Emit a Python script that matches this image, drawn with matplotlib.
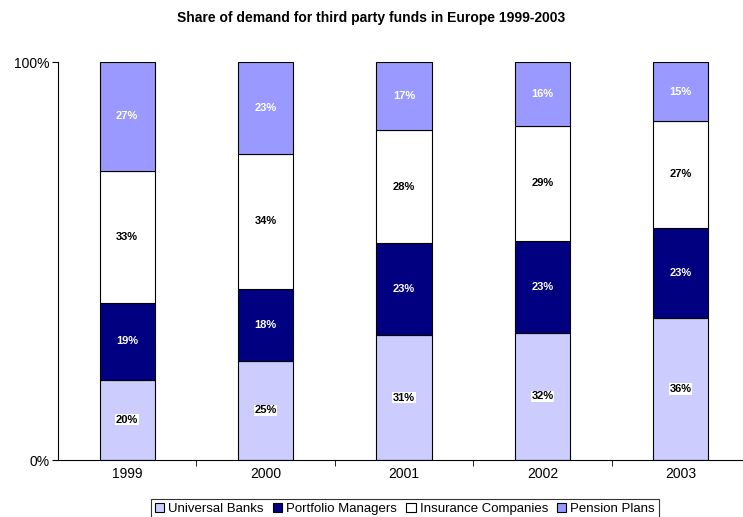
import matplotlib
matplotlib.use("Agg")
import matplotlib.pyplot as plt
import numpy as np
from matplotlib.patches import Patch

plt.rcParams['font.family'] = ['Liberation Sans', 'DejaVu Sans']

years = ['1999', '2000', '2001', '2002', '2003']
universal_banks = [20, 25, 31, 32, 36]
portfolio_managers = [19, 18, 23, 23, 23]
insurance_companies = [33, 34, 28, 29, 27]
pension_plans = [27, 23, 17, 16, 15]

series = [
    ('Universal Banks', universal_banks, '#CCCCFF', 'black', True),
    ('Portfolio Managers', portfolio_managers, '#000080', 'white', False),
    ('Insurance Companies', insurance_companies, '#FFFFFF', 'black', False),
    ('Pension Plans', pension_plans, '#9999FF', 'white', False),
]

data = np.array([s[1] for s in series], dtype=float)
totals = data.sum(axis=0)
shares = data / totals

fig = plt.figure(figsize=(7.43, 5.17), dpi=100)
ax = fig.add_axes([58/743, 57/517, 692/743, 398/517])

x = np.arange(len(years))
bottom = np.zeros(len(years))
for (name, vals, color, tcolor, boxed), sh in zip(series, shares):
    ax.bar(x, sh, 0.40, bottom=bottom, color=color, edgecolor='black', linewidth=0.8, zorder=2)
    for xi, b, h, v in zip(x, bottom, sh, vals):
        kw = {}
        if boxed:
            kw['bbox'] = dict(facecolor='white', edgecolor='none', pad=0.5)
        ax.text(xi, b + h / 2, f'{v}%', ha='center', va='center', fontsize=8,
                fontweight='bold', color=tcolor, zorder=3, **kw)
    bottom += sh

ax.set_xlim(-0.5, len(years) - 0.5)
ax.set_ylim(0, 1)
ax.set_yticks([0, 1])
ax.set_yticklabels(['0%', '100%'], fontsize=10)
ax.set_xticks(x)
ax.set_xticklabels(years, fontsize=10)
ax.tick_params(axis='x', which='major', length=0, pad=5)
ax.set_xticks(np.arange(0.5, len(years) - 0.5, 1), minor=True)
ax.tick_params(axis='x', which='minor', length=4, direction='out')
ax.tick_params(axis='y', length=4, direction='out', pad=2)
ax.spines['top'].set_visible(False)
ax.spines['right'].set_visible(False)
ax.spines['left'].set_linewidth(0.8)
ax.spines['bottom'].set_linewidth(0.8)

fig.text(0.5, 1 - 18/517, 'Share of demand for third party funds in Europe 1999-2003',
         ha='center', va='center', fontsize=10, fontweight='bold')

handles = [Patch(facecolor=s[2], edgecolor='black', linewidth=0.8) for s in series]
leg = fig.legend(handles, [s[0] for s in series], loc='upper center',
                 bbox_to_anchor=(405/743, 1 - 499/517), ncol=4, fontsize=9.5,
                 frameon=True, fancybox=False, edgecolor='black',
                 handlelength=0.7, handleheight=0.7, handletextpad=0.3,
                 columnspacing=0.7, borderpad=0.3, borderaxespad=0)
leg.get_frame().set_linewidth(0.8)

fig.savefig('out.png', dpi=100)
